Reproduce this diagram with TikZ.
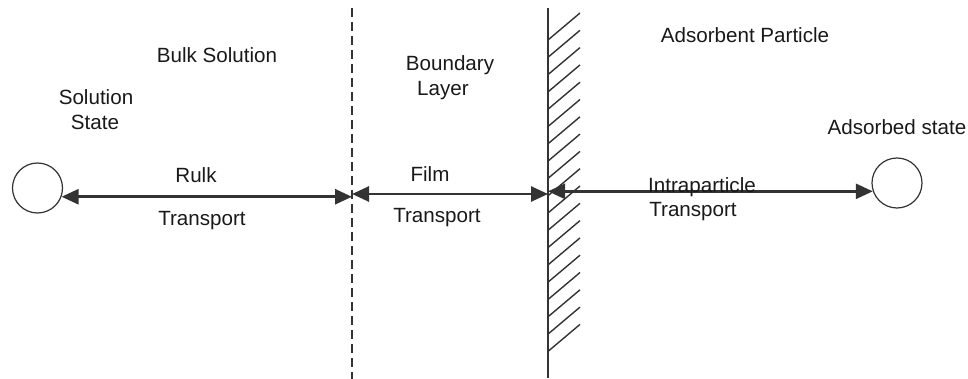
\documentclass[tikz,border=0pt]{standalone}
\usepackage{fontspec}
\setmainfont{Liberation Sans}
\usetikzlibrary{positioning}
\usetikzlibrary{arrows.meta}

\begin{document}
\begin{tikzpicture}[x=0.5pt,y=-0.5pt,
testo/.style={anchor=base,inner sep=0pt,text=black!90,font=\fontsize{10.3}{12.5}\selectfont},
stato/.style={draw=black!80,circle,line width=0.6pt,minimum size=25pt,inner sep=0pt},
freccia/.style={{Triangle[length=8.5pt,width=7.5pt]}-{Triangle[length=8.5pt,width=7.5pt]},line width=1.3pt,draw=black!80},
confine/.style={draw=black!80,line width=0.9pt,dash pattern=on 4.5pt off 2.5pt},
parete/.style={draw=black!80,line width=1pt},
tratteggio/.style={draw=black!80,line width=0.7pt}
]
\useasboundingbox (0,0) rectangle (968,379);
%--
\node[stato] (sol) at (37.5,188) {};
\node[stato] (ads) at (897,183) {};
\coordinate (dtop) at (352,8); \coordinate (dbot) at (352,379);
\coordinate (wtop) at (548,8); \coordinate (wbot) at (548,378);
\coordinate (film) at (450,194);
%--
\draw[confine] (dtop) -- (dbot);
\draw[parete] (wtop) -- (wbot);
\foreach \i in {0,...,18}
  \draw[tratteggio] (548,{40+17.3*\i}) -- ++(32,-27);
%--
\draw[freccia] (sol.340) -- (sol.340 -| dtop);
\draw[freccia] (film -| dtop) -- (film -| wtop);
\draw[freccia] (ads.199 -| wtop) -- (ads.199);
%--
\node[testo] (bs) at (217,63) {Bulk Solution};
\node[testo] (ss1) at (96,105) {Solution};
\node[testo] (ss2) at (95,130) {State};
\node[testo] (bt1) at (196,183) {Rulk};
\node[testo] (bt2) at (202,226) {Transport};
%--
\node[testo] (bl1) at (450,71) {Boundary};
\node[testo] (bl2) at (443,96) {Layer};
\node[testo] (ft1) at (430,182) {Film};
\node[testo] (ft2) at (437,222) {Transport};
%--
\node[testo] (ap) at (745,43) {Adsorbent Particle};
\node[testo] (it1) at (702,193) {Intraparticle};
\node[testo] (it2) at (693,217) {Transport};
\node[testo] (as) at (897,135) {Adsorbed state};
\end{tikzpicture}
\end{document}
